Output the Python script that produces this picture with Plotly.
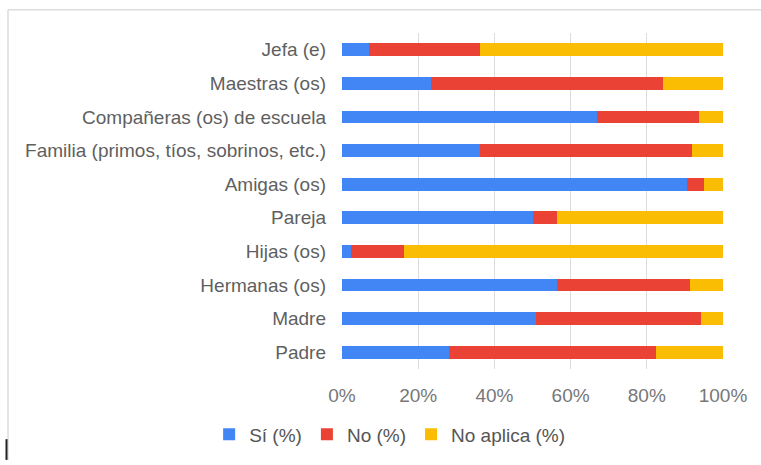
import plotly.graph_objects as go

# Categories listed bottom-to-top (Plotly draws the first category at the bottom)
categories = [
    "Padre",
    "Madre",
    "Hermanas (os)",
    "Hijas (os)",
    "Pareja",
    "Amigas (os)",
    "Familia (primos, tíos, sobrinos, etc.)",
    "Compañeras (os) de escuela",
    "Maestras (os)",
    "Jefa (e)",
]

si_pct = [28.2, 50.8, 56.4, 2.3, 50.0, 90.6, 36.2, 66.8, 23.4, 7.2]
no_pct = [54.2, 43.4, 34.9, 14.0, 6.4, 4.5, 55.6, 27.0, 60.8, 29.0]
na_pct = [17.6, 5.8, 8.7, 83.7, 43.6, 4.9, 8.2, 6.2, 15.8, 63.8]

series_names = ["Sí (%)", "No (%)", "No aplica (%)"]
series_colors = ["#4285F4", "#EA4335", "#FBBC04"]

FONT = "Liberation Sans, Arial, sans-serif"

fig = go.Figure()
for name, vals, color in zip(series_names, [si_pct, no_pct, na_pct], series_colors):
    fig.add_trace(go.Bar(
        name=name,
        y=categories,
        x=vals,
        orientation="h",
        marker=dict(color=color, line=dict(width=0)),
    ))

fig.update_layout(
    barmode="stack",
    bargap=0.62,
    width=761,
    height=465,
    margin=dict(l=342, r=38, t=33, b=92),
    paper_bgcolor="white",
    plot_bgcolor="white",
    font=dict(family=FONT, size=19, color="#5f5f5f"),
    showlegend=True,
    legend=dict(
        orientation="h",
        x=0.125,
        xanchor="center",
        y=-0.195,
        yanchor="middle",
        font=dict(family=FONT, size=19, color="#555555"),
        itemwidth=30,
        traceorder="normal",
        bgcolor="rgba(0,0,0,0)",
    ),
    xaxis=dict(
        range=[0, 100],
        tickvals=[0, 20, 40, 60, 80, 100],
        ticktext=["0%", "20%", "40%", "60%", "80%", "100%"],
        showgrid=True,
        gridcolor="#dcdcdc",
        gridwidth=1,
        zeroline=False,
        showline=False,
        ticks="",
        ticklabelstandoff=13,
        tickfont=dict(family=FONT, size=19, color="#777777"),
        fixedrange=True,
    ),
    yaxis=dict(
        categoryorder="array",
        categoryarray=categories,
        showgrid=False,
        zeroline=False,
        showline=False,
        ticks="",
        ticklabelstandoff=15,
        tickfont=dict(family=FONT, size=19, color="#5f5f5f"),
        fixedrange=True,
    ),
    shapes=[
        # light frame around the chart area
        dict(type="line", xref="paper", yref="paper",
             x0=(8 - 342) / 381, x1=(761 - 342) / 381,
             y0=(373 - 9.5) / 340, y1=(373 - 9.5) / 340,
             line=dict(color="#dddddd", width=1.5)),
        dict(type="line", xref="paper", yref="paper",
             x0=(8 - 342) / 381, x1=(8 - 342) / 381,
             y0=(373 - 9.5) / 340, y1=(373 - 465) / 340,
             line=dict(color="#dddddd", width=1.5)),
        # dark marker stroke at the lower-left edge
        dict(type="line", xref="paper", yref="paper",
             x0=(6.5 - 342) / 381, x1=(6.5 - 342) / 381,
             y0=(373 - 444) / 340, y1=(373 - 465) / 340,
             line=dict(color="#222222", width=2)),
    ],
)

fig.write_html("out.html")
